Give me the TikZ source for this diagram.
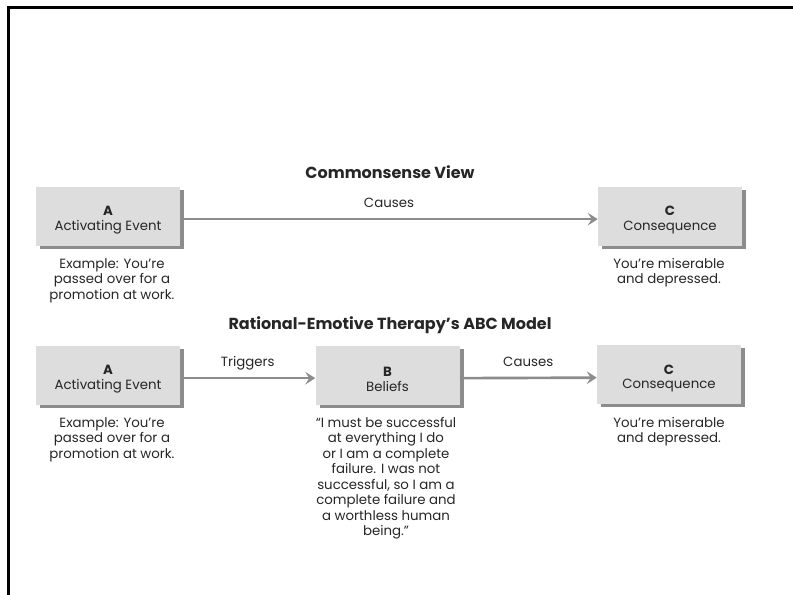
\documentclass[tikz,border=0pt]{standalone}
\usepackage{fontspec}
\setmainfont{Poppins}
\usepackage{tikz}
\usetikzlibrary{arrows.meta,shadows}

\definecolor{boxgray}{RGB}{221,221,221}
\definecolor{edgegray}{RGB}{140,140,140}
\definecolor{inkgray}{RGB}{38,38,38}

\tikzset{
  abcbox/.style={fill=boxgray, minimum width=108pt, minimum height=44.25pt, align=center, inner sep=0pt, text=inkgray,
    font=\fontsize{10}{11.2}\selectfont, text height=23.5pt,
    drop shadow={shadow xshift=3pt, shadow yshift=-2.25pt, fill=edgegray, opacity=1}},
  flow/.style={draw=edgegray, line width=2pt, -{Stealth[length=7.5pt,width=9.5pt,inset=3pt]}},
  note/.style={align=center, anchor=north, inner sep=0pt, text=inkgray, font=\fontsize{10}{11.6}\selectfont},
  heading/.style={inner sep=0pt, text=inkgray, font=\fontsize{12}{14}\selectfont\bfseries},
  flowlabel/.style={inner sep=0pt, text height=7pt, text depth=2pt, text=inkgray, font=\fontsize{10}{11.6}\selectfont}
}

\begin{document}
\begin{tikzpicture}[x=0.75pt,y=0.75pt,yscale=-1,xscale=1]
\useasboundingbox (0,0) rectangle (793,595);

%Frame
\draw [line width=2.25pt]  (8,595) -- (8,8) -- (793,8) ;

% Commonsense View
\node [heading] (title1) at (390,172) {Commonsense View};
\node [abcbox] (A1) at (108,216.5) {\textbf{A}\\Activating Event};
\node [abcbox] (C1) at (670,216.5) {\textbf{C}\\Consequence};
\draw [flow] ([yshift=2pt]A1.east) -- node [flowlabel, above=5.5pt] (lab1) {Causes} ([yshift=2pt]C1.west) ;
% Text Node
\node [note] (exA1) at (112,258) {Example: You’re\\passed over for a\\promotion at work.};
% Text Node
\node [note] (exC1) at (669,258) {You’re miserable\\and depressed.};

% Rational-Emotive Therapy
\node [heading] (title2) at (390,325) {Rational-Emotive Therapy’s ABC Model};
\node [abcbox] (A2) at (108,375.5) {\textbf{A}\\Activating Event};
\node [abcbox] (B2) at (387.5,375.5) {\textbf{B}\\Beliefs};
\node [abcbox] (C2) at (669,375) {\textbf{C}\\Consequence};
\draw [flow] ([yshift=2pt]A2.east) -- node [flowlabel, above=5.5pt] (lab2) {Triggers} ([yshift=2pt]B2.west) ;
\draw [flow] ([yshift=2pt]B2.east) -- node [flowlabel, above=5.5pt] (lab3) {Causes} ([yshift=2pt]C2.west) ;
% Text Node
\node [note] (exA2) at (112,417) {Example: You’re\\passed over for a\\promotion at work.};
% Text Node
\node [note] (exB2) at (386,417) {“I must be successful\\at everything I do\\or I am a complete\\failure. I was not\\successful, so I am a\\complete failure and\\a worthless human\\being.”};
% Text Node
\node [note] (exC2) at (669,417) {You’re miserable\\and depressed.};

\end{tikzpicture}
\end{document}
